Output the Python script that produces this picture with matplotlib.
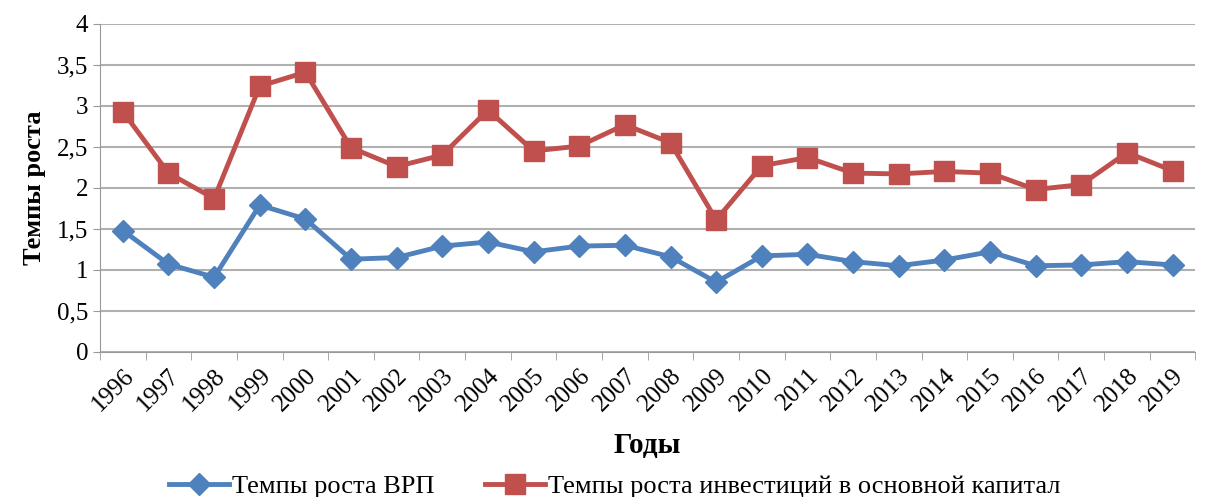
import matplotlib.pyplot as plt
import numpy as np

plt.rcParams['font.family'] = ['Liberation Serif', 'DejaVu Serif']

years = [str(y) for y in range(1996, 2020)]
grp_growth = [1.48, 1.07, 0.91, 1.79, 1.62, 1.13, 1.15, 1.29, 1.34, 1.22, 1.29, 1.30,
              1.16, 0.85, 1.17, 1.19, 1.10, 1.05, 1.12, 1.22, 1.05, 1.06, 1.10, 1.06]
invest_growth = [2.93, 2.18, 1.87, 3.24, 3.41, 2.49, 2.26, 2.40, 2.95, 2.45, 2.51, 2.77,
                 2.55, 1.61, 2.27, 2.37, 2.18, 2.17, 2.20, 2.18, 1.98, 2.04, 2.43, 2.21]
y_ticks = [0, 0.5, 1, 1.5, 2, 2.5, 3, 3.5, 4]
y_labels = ['0', '0,5', '1', '1,5', '2', '2,5', '3', '3,5', '4']

fig = plt.figure(figsize=(12.05, 4.97), dpi=100)
ax = fig.add_axes([0.083, 0.292, 0.909, 0.66])

x = np.arange(len(years))
ax.plot(x, grp_growth, color='#4f81bd', lw=3.5, marker='D', ms=11,
        label='Темпы роста ВРП')
ax.plot(x, invest_growth, color='#c0504d', lw=3.5, marker='s', ms=14,
        label='Темпы роста инвестиций в основной капитал')

ax.set_xlim(-0.5, len(years) - 0.5)
ax.set_ylim(0, 4)
ax.set_yticks(y_ticks)
ax.set_yticklabels(y_labels, fontsize=18)
ax.yaxis.grid(True, color='#b0b0b0', lw=1.5)
ax.set_axisbelow(True)

ax.set_xticks(x)
ax.set_xticklabels(years, rotation=45, ha='right', rotation_mode='anchor', fontsize=18)
ax.set_xticks(np.arange(len(years) + 1) - 0.5, minor=True)
ax.tick_params(axis='x', which='major', length=0, pad=9)
ax.tick_params(axis='x', which='minor', length=6, color='#999999')
ax.tick_params(axis='y', length=5, color='#999999')

for side in ['top', 'right']:
    ax.spines[side].set_visible(False)
ax.spines['left'].set_color('#999999')
ax.spines['bottom'].set_color('#999999')

ax.set_xlabel('Годы', fontsize=21, fontweight='bold', labelpad=12)
ax.set_ylabel('Темпы роста', fontsize=19, fontweight='bold', labelpad=8)

fig.legend(loc='lower center', ncol=2, frameon=False, fontsize=19,
           bbox_to_anchor=(0.51, -0.05), handlelength=2.3, handletextpad=0.1,
           columnspacing=1.9)

fig.savefig('out.png', dpi=100)
